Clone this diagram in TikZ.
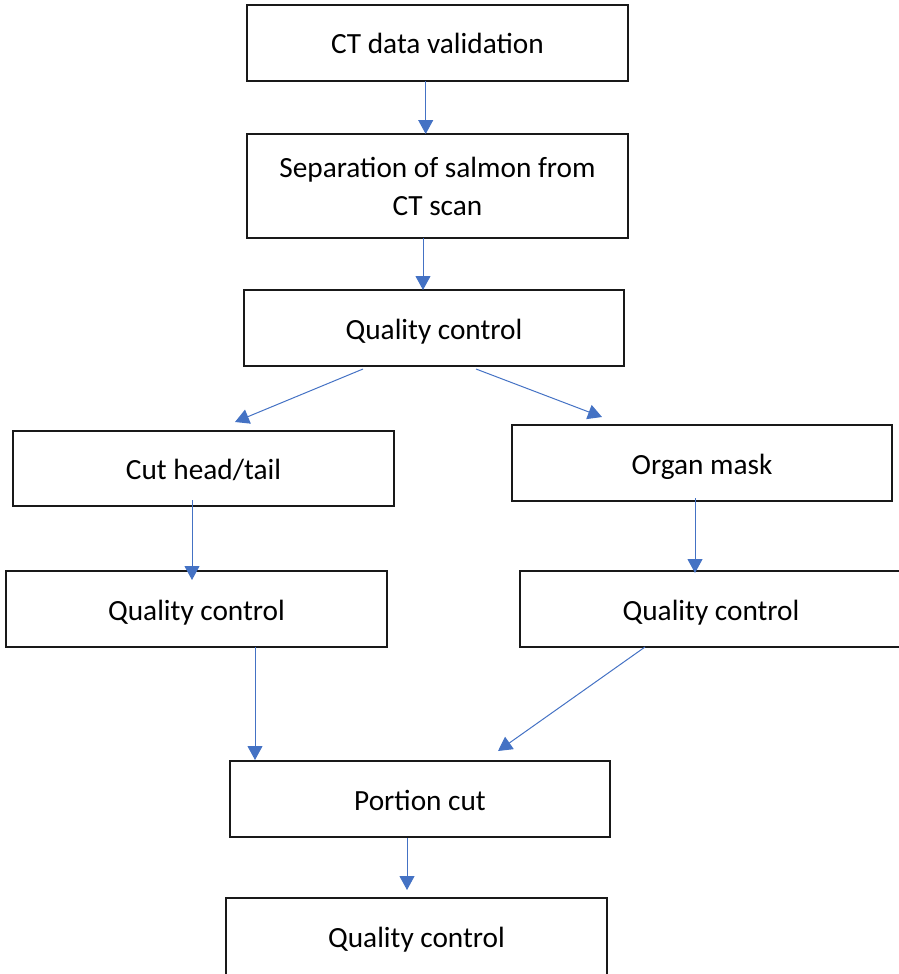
\documentclass[tikz,border=0pt]{standalone}
\usepackage{fontspec}
\setmainfont{Carlito}
\usetikzlibrary{arrows.meta}
\definecolor{arrowblue}{HTML}{4472C4}
\begin{document}
\begin{tikzpicture}[x=1pt,y=-1pt,
  box/.style={draw=black!90, line width=1.3pt, fill=white, inner sep=0pt, outer sep=0pt,
    minimum height=76pt, minimum width=381pt, align=center,
    font=\fontsize{29.3}{38}\selectfont},
  oneline/.style={box, text height=26pt, text depth=4pt},
  arr/.style={draw=arrowblue, line width=1pt, -{Triangle[length=14pt,width=15pt]}}]
\useasboundingbox (0,0) rectangle (899,974);
\node[oneline] (b1) at (437.5,43) {CT data validation};
\node[box, minimum height=104pt] (b2) at (437.5,186) {Separation of salmon from\\CT scan};
\node[oneline, minimum width=380pt] (b3) at (434,328) {Quality control};
\node[oneline, minimum height=75pt] (b4) at (203.5,468.5) {Cut head/tail};
\node[oneline, minimum width=380pt] (b5) at (702,463) {Organ mask};
\node[oneline] (b6) at (196.5,609) {Quality control};
\node[oneline, minimum width=382pt] (b7) at (711,609) {Quality control};
\node[oneline, minimum width=380pt] (b8) at (420,799) {Portion cut};
\node[oneline, minimum height=77pt] (b9) at (416.5,936.5) {Quality control};

\draw[arr] ([xshift=-11.8pt]b1.south) -- ([xshift=-11.8pt]b2.north);
\draw[arr] ([xshift=-14.5pt]b2.south) -- ([xshift=-11pt]b3.north);
\draw[arr] ([xshift=-71pt,yshift=-3pt]b3.south) -- ([xshift=31.5pt,yshift=9pt]b4.north);
\draw[arr] ([xshift=42pt,yshift=-3pt]b3.south) -- ([xshift=-100pt,yshift=8pt]b5.north);
\draw[arr] ([xshift=-11.5pt,yshift=6pt]b4.south) -- ([xshift=-4.5pt,yshift=-9pt]b6.north);
\draw[arr] ([xshift=-7pt,yshift=3pt]b5.south) -- ([xshift=-16pt,yshift=-2pt]b7.north);
\draw[arr] ([xshift=58.5pt]b6.south) -- ([xshift=-165pt,yshift=1pt]b8.north);
\draw[arr] ([xshift=-66pt]b7.south) -- ([xshift=78pt,yshift=10pt]b8.north);
\draw[arr] ([xshift=-13pt,yshift=-1pt]b8.south) -- ([xshift=-9.5pt,yshift=8pt]b9.north);
\end{tikzpicture}
\end{document}
